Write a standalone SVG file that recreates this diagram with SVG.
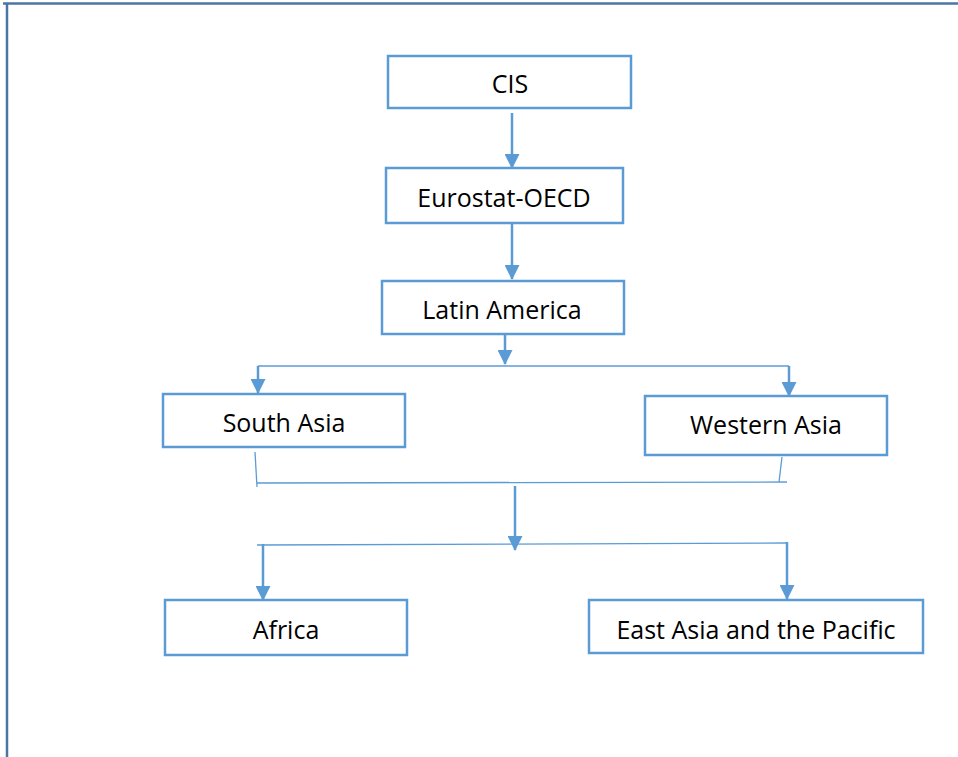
<svg xmlns="http://www.w3.org/2000/svg" width="958" height="757" viewBox="0 0 958 757">
<style>
.box{fill:#fff;stroke:#5b9bd5;stroke-width:2.5}
.lbl{font-family:"Open Sans","Noto Sans",sans-serif;font-size:25px;fill:#000;text-anchor:middle;dominant-baseline:central}
.thin{stroke:#5b9bd5;stroke-width:1.3;fill:none}
.arr{stroke:#5b9bd5;stroke-width:2.5;fill:none}
</style>
<defs>
<marker id="ah" markerWidth="15" markerHeight="15" refX="14" refY="7.5" orient="auto" markerUnits="userSpaceOnUse">
<path d="M0,0 L15,7.5 L0,15 Z" fill="#5b9bd5"/>
</marker>
</defs>
<rect width="958" height="757" fill="#fff"/>
<g id="frame">
<line x1="3" y1="3.5" x2="958" y2="3.5" stroke="#4a76a6" stroke-width="2.5"/>
<line x1="7" y1="3" x2="7" y2="757" stroke="#4a76a6" stroke-width="2.5"/>
</g>
<g id="connectors">
<line class="arr" x1="512" y1="113" x2="512" y2="168" marker-end="url(#ah)"/>
<line class="arr" x1="512" y1="223" x2="512" y2="279" marker-end="url(#ah)"/>
<line class="arr" x1="505" y1="334" x2="505" y2="364" marker-end="url(#ah)"/>
<line class="thin" x1="258" y1="366" x2="789" y2="366"/>
<line class="arr" x1="258" y1="366" x2="258" y2="393" marker-end="url(#ah)"/>
<line class="arr" x1="789" y1="366" x2="789" y2="396" marker-end="url(#ah)"/>
<polyline class="thin" points="255,452 257,487"/>
<line class="thin" x1="257" y1="483" x2="787" y2="482"/>
<polyline class="thin" points="782,457 779,482"/>
<line class="arr" x1="515" y1="486" x2="515" y2="550" marker-end="url(#ah)"/>
<line class="thin" x1="257" y1="545" x2="787" y2="543"/>
<line class="arr" x1="263" y1="544" x2="263" y2="600" marker-end="url(#ah)"/>
<line class="arr" x1="787" y1="542" x2="787" y2="599" marker-end="url(#ah)"/>
</g>
<g id="cis"><rect class="box" x="388" y="56" width="243" height="52"/><text class="lbl" x="510" y="83">CIS</text></g>
<g id="eurostat"><rect class="box" x="386" y="168" width="237" height="55"/><text class="lbl" x="504" y="197">Eurostat-OECD</text></g>
<g id="latam"><rect class="box" x="382" y="281" width="242" height="53"/><text class="lbl" x="502" y="309">Latin America</text></g>
<g id="southasia"><rect class="box" x="163" y="394" width="242" height="53"/><text class="lbl" x="284" y="422">South Asia</text></g>
<g id="westasia"><rect class="box" x="645" y="396" width="242" height="59"/><text class="lbl" x="766" y="424">Western Asia</text></g>
<g id="africa"><rect class="box" x="165" y="600" width="242" height="55"/><text class="lbl" x="286" y="629">Africa</text></g>
<g id="eastasia"><rect class="box" x="589" y="600" width="334" height="53"/><text class="lbl" x="756" y="629">East Asia and the Pacific</text></g>
</svg>
